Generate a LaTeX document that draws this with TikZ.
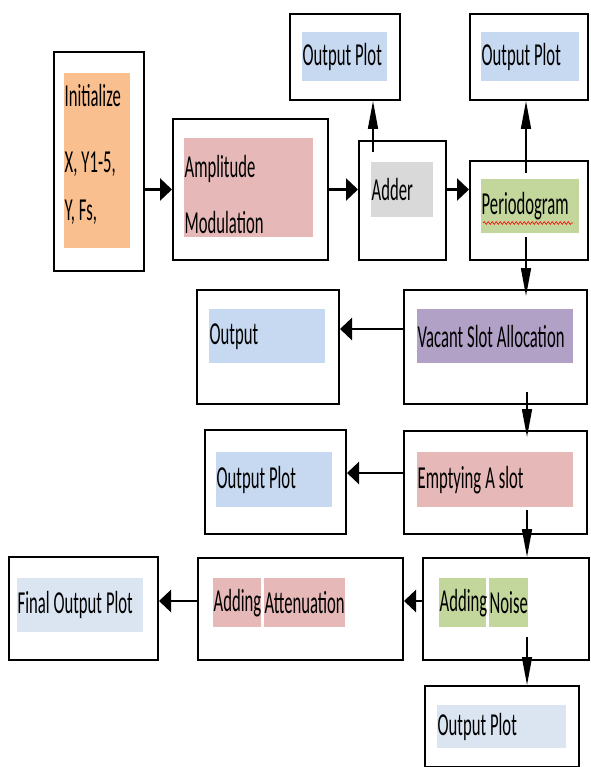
\documentclass[tikz,border=0pt]{standalone}
\usepackage{fontspec}
\setmainfont{Carlito}[FakeStretch=0.52]
\usepackage{tikz}
\usetikzlibrary{arrows.meta}
\usetikzlibrary{decorations.pathmorphing}
\hyphenpenalty=10000

\definecolor{orangeF}{RGB}{250,191,143}
\definecolor{pinkF}{RGB}{230,184,183}
\definecolor{blueF}{RGB}{198,217,241}
\definecolor{lblueF}{RGB}{219,229,241}
\definecolor{grayF}{RGB}{217,217,217}
\definecolor{greenF}{RGB}{195,214,155}
\definecolor{purpF}{RGB}{178,161,199}

\begin{document}
\begin{tikzpicture}
		[x=1pt, y=-1pt,
		box/.style = {draw, line width=2pt, anchor=north west, inner sep=0pt},
		hl/.style = {anchor=north west, inner xsep=0.5pt, inner ysep=0pt, align=left,
			font=\fontsize{32}{48}\selectfont,
			execute at begin node={\spaceskip=4pt plus 2pt minus 1pt\relax}},
		harr/.style = {line width=2.6pt, -{Triangle[length=12pt,width=22pt]}},
		varr/.style = {line width=1.6pt, -{Triangle[length=28pt,width=10pt]}}]
	\useasboundingbox (0,0) rectangle (590,767);
	% boxes
	\node[box, minimum width=90, minimum height=219] (init) at (53,51) {};
	\node[box, minimum width=155, minimum height=141] (amp) at (172,118) {};
	\node[box, minimum width=110, minimum height=86] (out1) at (289,13) {};
	\node[box, minimum width=87, minimum height=119] (adder) at (358,140) {};
	\node[box, minimum width=118, minimum height=86] (out2) at (469,13) {};
	\node[box, minimum width=118, minimum height=99] (period) at (469,160) {};
	\node[box, minimum width=183, minimum height=114] (vacant) at (403,289) {};
	\node[box, minimum width=142, minimum height=114] (outv) at (196,289) {};
	\node[box, minimum width=183, minimum height=103] (empty) at (403,430) {};
	\node[box, minimum width=141, minimum height=104] (out3) at (204,429) {};
	\node[box, minimum width=166, minimum height=102] (noise) at (422,557) {};
	\node[box, minimum width=205, minimum height=102] (atten) at (197,557) {};
	\node[box, minimum width=149, minimum height=103] (final) at (8,556) {};
	\node[box, minimum width=154, minimum height=81] (out4) at (424,685) {};
	% highlighted labels
	\node[hl, fill=orangeF, text width=65, minimum height=175] (initT) at (64,73)
		{Initialize\\[18pt]X, Y1-5,\\Y, Fs,\rule[-17pt]{0pt}{1pt}};
	\node[hl, fill=pinkF, text width=128, minimum height=99] (ampT) at (184,138)
		{\rule{0pt}{35pt}Amplitude\\[8pt]Modulation};
	\node[hl, fill=blueF, text width=84, minimum height=49] (out1T) at (302,32) {Output Plot};
	\node[hl, fill=grayF, text width=61, minimum height=55] (addT) at (371,162) {Adder};
	\node[hl, fill=blueF, text width=97, minimum height=49] (out2T) at (481,32) {Output Plot};
	\node[hl, fill=greenF, text width=97, minimum height=54] (perT) at (481,179) {Periodogram};
	\node[hl, fill=purpF, text width=155, minimum height=54] (vacT) at (417,309) {Vacant Slot Allocation};
	\node[hl, fill=blueF, text width=115, minimum height=54] (outT) at (209,309) {Output};
	\node[hl, fill=pinkF, text width=155, minimum height=55] (emptT) at (417,452) {Emptying A slot};
	\node[hl, fill=blueF, text width=115, minimum height=55] (out3T) at (216,452) {Output Plot};
	\node[hl, fill=greenF, text width=46, minimum height=49] (noiseA) at (439,578) {Adding};
	\node[hl, fill=greenF, text width=38, minimum height=49] (noiseB) at (489,578) {Noise};
	\node[hl, fill=pinkF, text width=47, minimum height=49] (attA) at (213,578) {Adding};
	\node[hl, fill=pinkF, text width=80, minimum height=49] (attB) at (264,578) {Attenuation};
	\node[hl, fill=lblueF, text width=125, minimum height=54] (finT) at (17,578) {Final Output Plot};
	\node[hl, fill=lblueF, text width=128, minimum height=43] (out4T) at (437,705) {Output Plot};
	\draw[red, line width=0.6pt, decorate, decoration={snake, amplitude=1.4pt, segment length=4pt}]
		(483,223) -- (573,223);
	% arrow start points
	\coordinate (a1) at (373,152);
	\coordinate (p1) at (526,173);
	\coordinate (p2) at (526,237);
	\coordinate (v2) at (527,392);
	\coordinate (e2) at (527,510);
	\coordinate (n2) at (527,637);
	% connectors
	\draw[harr] (init.east |- amp.west) -- (amp.west);
	\draw[harr] (amp.east) -- (amp.east -| adder.west);
	\draw[harr] (amp.east -| adder.east) -- (amp.east -| period.west);
	\draw[varr] (a1) -- (a1 |- out1.south);
	\draw[varr] (p1) -- (p1 |- out2.south);
	\draw[varr, shorten >=-7pt] (p2) -- (p2 |- vacant.north);
	\draw[harr] ([yshift=18pt]vacant.west) -- ([yshift=18pt]vacant.west -| outv.east);
	\draw[varr, shorten >=-7pt] (v2) -- (v2 |- empty.north);
	\draw[harr] ([yshift=9.5pt]empty.west) -- ([yshift=9.5pt]empty.west -| out3.east);
	\draw[varr] (e2) -- (e2 |- noise.north);
	\draw[harr] ([yshift=8pt]noise.west) -- ([yshift=8pt]noise.west -| atten.east);
	\draw[harr] ([yshift=8pt]atten.west) -- ([yshift=8pt]atten.west -| final.east);
	\draw[varr] (n2) -- (n2 |- out4.north);
\end{tikzpicture}
\end{document}
